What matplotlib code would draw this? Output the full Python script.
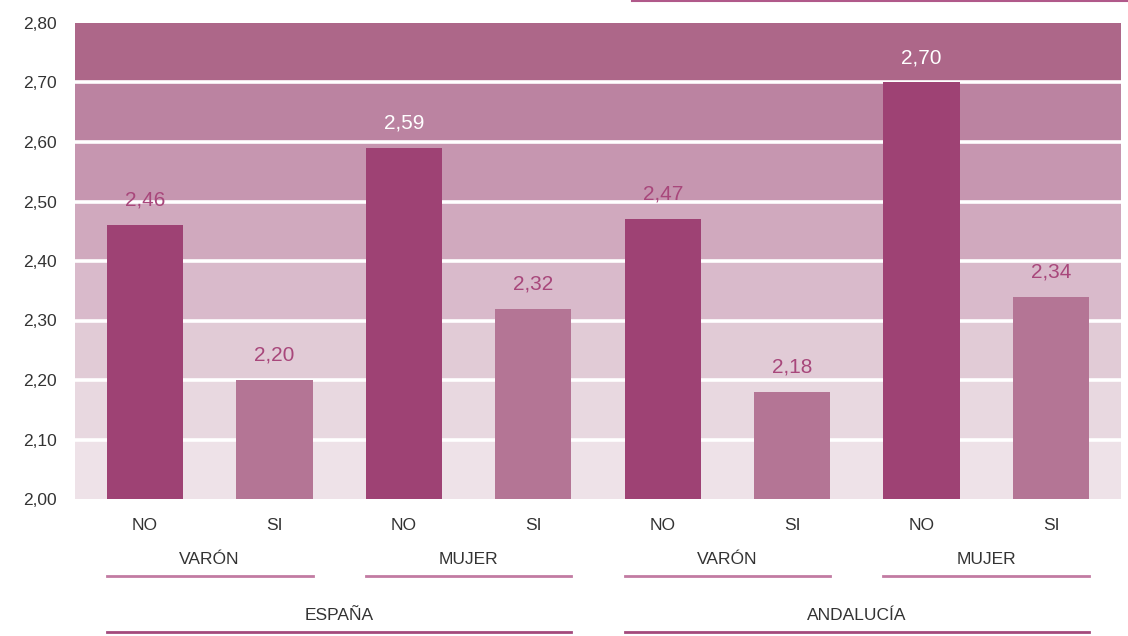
import matplotlib
matplotlib.use("Agg")
import matplotlib.pyplot as plt
from matplotlib.lines import Line2D

plt.rcParams['font.family'] = ['Liberation Sans', 'DejaVu Sans']

categories = ["NO", "SI", "NO", "SI", "NO", "SI", "NO", "SI"]
values = [2.46, 2.20, 2.59, 2.32, 2.47, 2.18, 2.70, 2.34]
value_labels = ["2,46", "2,20", "2,59", "2,32", "2,47", "2,18", "2,70", "2,34"]
sex_groups = ["VARÓN", "MUJER", "VARÓN", "MUJER"]
regions = ["ESPAÑA", "ANDALUCÍA"]
yticks = [2.0, 2.1, 2.2, 2.3, 2.4, 2.5, 2.6, 2.7, 2.8]
ytick_labels = ["2,00", "2,10", "2,20", "2,30", "2,40", "2,50", "2,60", "2,70", "2,80"]

band_colors = ["#eee2e8", "#e8d8e0", "#e1cbd6", "#d9bacb", "#d0a9be", "#c696b0", "#bb83a1", "#ad6789"]
bar_colors = ["#9e4274", "#b47595"]

W, H = 1128, 636
fig = plt.figure(figsize=(W / 100, H / 100), dpi=100)
ax = fig.add_axes([75 / W, 1 - 499 / H, (1121 - 75) / W, (499 - 23) / H])

# bands
for i in range(len(yticks) - 1):
    ax.axhspan(yticks[i], yticks[i + 1], color=band_colors[i], lw=0, zorder=0)
for y in yticks[1:-1]:
    ax.axhline(y, color="white", lw=2.6, zorder=1)

x = list(range(len(values)))
cols = [bar_colors[i % 2] for i in x]
ax.bar(x, [v - 2.0 for v in values], bottom=2.0, width=0.59, color=cols, zorder=2)

for xi, v, lab in zip(x, values, value_labels):
    c = "white" if v > 2.55 else "#a8477b"
    ax.text(xi, v + 0.042, lab, ha="center", va="center", fontsize=15, color=c, zorder=3)

ax.set_xlim(-0.54, 7.54)
ax.set_ylim(2.0, 2.8)
ax.set_yticks(yticks)
ax.set_yticklabels(ytick_labels, fontsize=12.5, color="#333333")
ax.tick_params(axis="y", length=0, pad=13)
ax.set_xticks(x)
ax.set_xticklabels(categories, fontsize=12.5, color="#333333")
ax.tick_params(axis="x", length=0, pad=14)
for s in ax.spines.values():
    s.set_visible(False)

trans = ax.get_xaxis_transform()
hw = 0.59 / 2
for g, name in enumerate(sex_groups):
    x0, x1 = 2 * g - hw, 2 * g + 1 + hw
    ax.text((x0 + x1) / 2, -(559 - 499) / 476, name, transform=trans, ha="center", va="center",
            fontsize=12.5, color="#333333")
    ax.add_line(Line2D([x0, x1], [-(576 - 499) / 476] * 2, transform=trans, color="#c27ba2",
                       lw=2, clip_on=False))
for r, name in enumerate(regions):
    x0, x1 = 4 * r - hw, 4 * r + 3 + hw
    ax.text((x0 + x1) / 2, -(615 - 499) / 476, name, transform=trans, ha="center", va="center",
            fontsize=12.5, color="#333333")
    ax.add_line(Line2D([x0, x1], [-(632 - 499) / 476] * 2, transform=trans, color="#a34a7c",
                       lw=2, clip_on=False))

# thin line at top right
fig.add_artist(Line2D([632 / W, 1.0], [1 - 0.8 / H] * 2, color="#b0598a", lw=1.5))

fig.savefig("out.png", dpi=100)
